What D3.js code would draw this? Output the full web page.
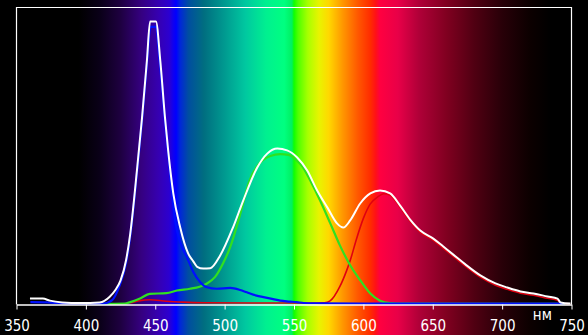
<!DOCTYPE html>
<html><head><meta charset="utf-8">
<script src="https://cdn.jsdelivr.net/npm/d3@7"></script>
<style>html,body{margin:0;padding:0;background:#000;}svg{display:block;}</style>
</head><body>
<svg id="c" width="588" height="335"></svg>
<script>
const tickValues = [350, 400, 450, 500, 550, 600, 650, 700, 750];
const unitLabel = "нм";

const whiteData = [[359.7,0.020],[369,0.020],[374,0.013],[383,0.007],[396,0.005],[410,0.007],[417,0.025],[421,0.047],[425,0.081],[429,0.150],[432,0.239],[437,0.461],[440.5,0.630],[444,0.822],[446.3,0.953],[450.5,0.953],[453.6,0.822],[457,0.630],[459.3,0.519],[463,0.374],[468,0.259],[473.7,0.172],[477.3,0.146],[480.2,0.127],[484.6,0.121],[489.6,0.122],[496.8,0.165],[506,0.259],[513.4,0.350],[523.5,0.461],[530.7,0.508],[538,0.525],[545,0.519],[552.3,0.495],[559.5,0.451],[566.7,0.384],[574,0.327],[581,0.273],[585.5,0.259],[590.5,0.283],[597.7,0.340],[605,0.374],[612,0.384],[619.3,0.374],[626.5,0.333],[633.7,0.286],[641,0.249],[650.4,0.222],[657.6,0.195],[664.8,0.168],[673.5,0.135],[684.3,0.098],[695.2,0.071],[703.8,0.057],[713.2,0.044],[722.6,0.037],[732.7,0.027],[739.9,0.020],[742.1,0.007],[749.3,0.003]];

const blueData = [[360,0.008],[372,0.007],[385,0.003],[412,0.003],[419,0.015],[424,0.06],[429,0.14],[432,0.23],[437,0.45],[440.5,0.62],[444,0.81],[446.5,0.935],[450.3,0.935],[453.4,0.81],[457,0.62],[459.5,0.50],[462,0.38],[464.3,0.283],[468,0.21],[472.8,0.159],[477.5,0.109],[482.4,0.075],[487.2,0.058],[494.4,0.053],[504,0.056],[511.2,0.049],[516,0.041],[523,0.03],[528,0.025],[535,0.018],[540,0.013],[547,0.010],[552,0.008],[557,0.005],[569,0.004],[600,0.003],[745,0.003]];

const greenData = [[410,0.002],[428,0.003],[432,0.008],[439,0.02],[446,0.036],[458,0.038],[465.6,0.047],[475,0.053],[482,0.060],[487,0.07],[493,0.092],[499,0.140],[504,0.193],[511,0.30],[518,0.418],[525.6,0.478],[533,0.500],[540,0.506],[546,0.504],[552,0.485],[556,0.465],[561.6,0.418],[568.8,0.35],[576,0.275],[583,0.20],[590.5,0.132],[597.8,0.081],[605,0.037],[612,0.013],[619,0.005],[630,0.003],[745,0.002]];

const redData = [[432,0.005],[439,0.013],[446,0.016],[458,0.011],[470,0.008],[485,0.006],[520,0.005],[560,0.005],[572,0.006],[576,0.012],[583,0.06],[588,0.115],[590.5,0.148],[595,0.22],[600,0.29],[605,0.339],[610,0.361],[614.6,0.373],[619,0.369],[626.5,0.327],[633.7,0.280],[641,0.243],[650.4,0.216],[657.6,0.189],[664.8,0.162],[673.5,0.129],[684.3,0.092],[695.2,0.065],[703.8,0.051],[713.2,0.038],[722.6,0.031],[732.7,0.021],[739.9,0.014],[742.1,0.004],[749,0.002]];

const spectrumStops = [[350,"#000000"],[395,"#000000"],[410,"#0a0018"],[425,"#1e0040"],[440,"#350080"],[452,"#3600b0"],[460,"#2c00d0"],[463,"#1000f0"],[465,"#0000ff"],[468,"#0028d8"],[474,"#004ea0"],[485,"#006e80"],[500,"#009a90"],[515,"#00c8a0"],[530,"#00f090"],[543,"#00ff80"],[548.5,"#00f060"],[550,"#10ff00"],[553,"#50ff00"],[560,"#a8ff00"],[568,"#e8f400"],[575,"#ffd800"],[585,"#ff9800"],[596,"#ff5800"],[605,"#ff2c00"],[609,"#ff1018"],[612,"#ff0040"],[625,"#e80048"],[640,"#b00038"],[660,"#800020"],[680,"#500012"],[700,"#280008"],[720,"#0c0000"],[735,"#000000"],[750,"#000000"]];

const W = 588, H = 335;
const svg = d3.select("#c");
const x = d3.scaleLinear().domain([350, 750]).range([16.5, 571.5]);
const y = d3.scaleLinear().domain([0, 1]).range([304.5, 7.5]);

const defs = svg.append("defs");
const grad = defs.append("linearGradient").attr("id", "spec")
  .attr("gradientUnits", "userSpaceOnUse")
  .attr("x1", x(350)).attr("x2", x(750)).attr("y1", 0).attr("y2", 0);
grad.selectAll("stop").data(spectrumStops).join("stop")
  .attr("offset", d => (d[0] - 350) / 400)
  .attr("stop-color", d => d[1]);

svg.append("rect").attr("width", W).attr("height", H).attr("fill", "#000");
svg.append("rect").attr("x", x(350)).attr("width", x(750) - x(350)).attr("y", 0).attr("height", H).attr("fill", "url(#spec)");

// frame
svg.append("path")
  .attr("d", `M${x(350)},${y(0)}V${y(1)}H${x(750)}V${y(0)}`)
  .attr("fill", "none").attr("stroke", "#fff").attr("stroke-width", 1.2);

const line = d3.line().x(d => x(d[0])).y(d => y(d[1])).curve(d3.curveMonotoneX);
const series = [
  {data: redData, color: "#e00010", w: 1.6},
  {data: greenData, color: "#30e020", w: 2.2},
  {data: blueData, color: "#0010ff", w: 2.2},
  {data: whiteData, color: "#ffffff", w: 2}
];
svg.selectAll("path.s").data(series).join("path").attr("class", "s")
  .attr("d", d => line(d.data)).attr("fill", "none")
  .attr("stroke", d => d.color).attr("stroke-width", d => d.w)
  .attr("stroke-linejoin", "round");

const axis = d3.axisBottom(x).tickValues(tickValues).tickSize(5).tickSizeOuter(0).tickFormat(d3.format("d"));
const g = svg.append("g").attr("transform", `translate(0,${y(0)})`).call(axis);
g.select(".domain").attr("stroke", "#fff").attr("stroke-width", 1.5);
g.selectAll(".tick line").attr("stroke", "#fff").attr("stroke-width", 1);
g.selectAll(".tick text").attr("fill", "#fff").attr("dy", 0).attr("y", 26)
  .style("font-family", "'Liberation Sans Narrow', 'DejaVu Sans Condensed', sans-serif").style("font-size", "15px");

svg.append("text").attr("x", x(729)).attr("y", 320).attr("text-anchor", "middle")
  .attr("fill", "#fff").style("font-family", "'Liberation Sans Narrow', 'DejaVu Sans Condensed', sans-serif").style("font-size", "15px")
  .text(unitLabel);
</script>
</body></html>
